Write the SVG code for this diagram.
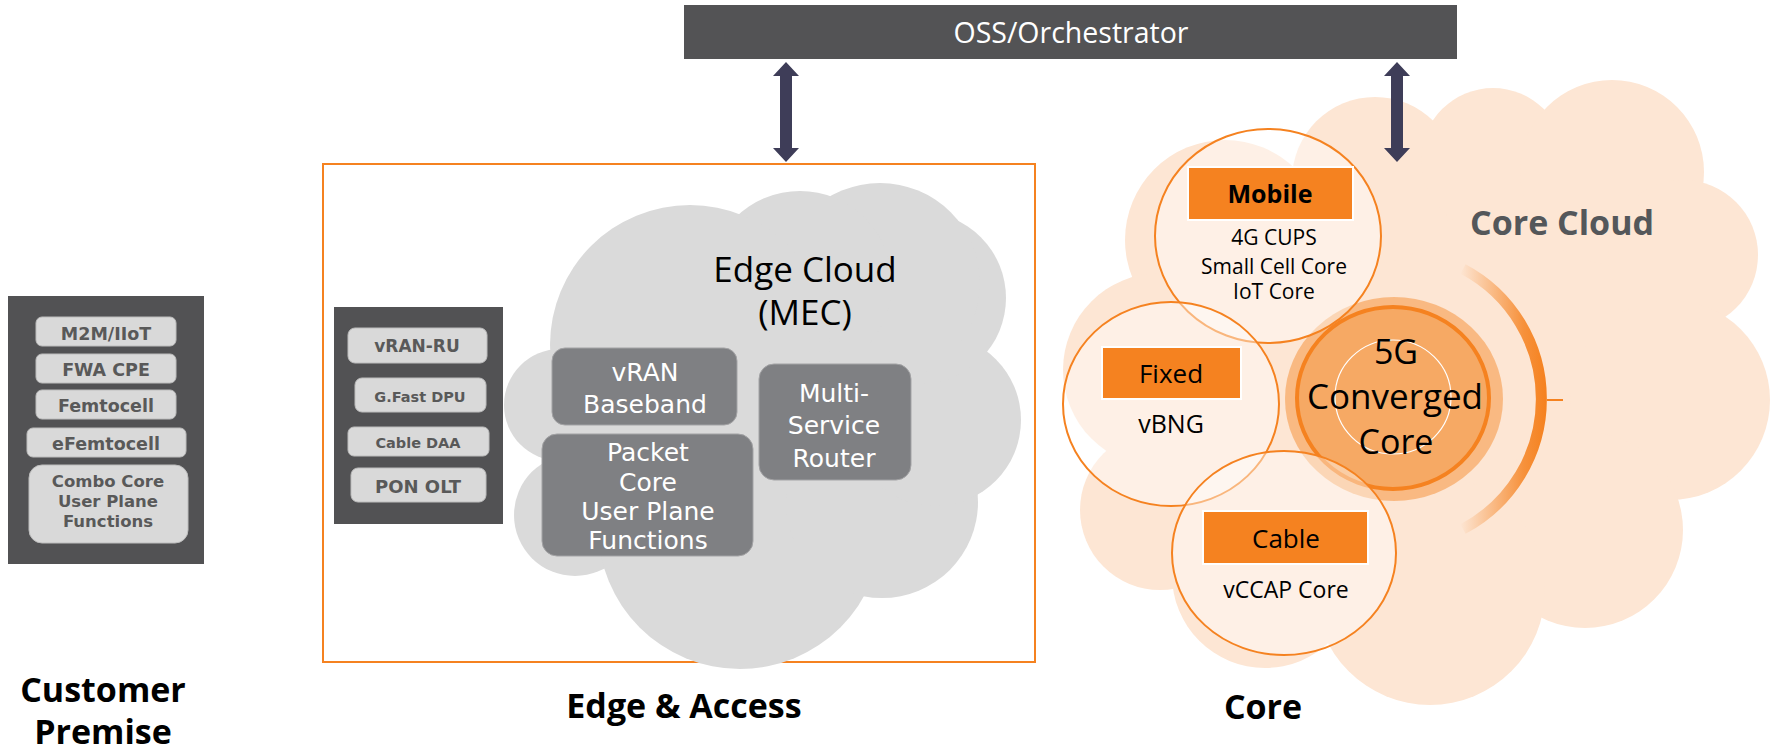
<svg xmlns="http://www.w3.org/2000/svg" width="1771" height="752" viewBox="0 0 1771 752">
  <defs>
    <style>
      .seg { font-family: "Open Sans", "Noto Sans", "Liberation Sans", sans-serif; }
      .title { font-family: "Open Sans", "Noto Sans", sans-serif; font-weight: 700; font-size: 34px; fill: #000; text-anchor: middle; }
      .darkpanel { fill: #525254; }
      .chip { fill: #d9d9d9; stroke: #bdbdbd; stroke-width: 1; }
      .chiptxt { font-family: "DejaVu Sans", "Liberation Sans", sans-serif; font-weight: 700; fill: #595959; text-anchor: middle; }
      .mecbox { fill: #7f8083; stroke: #a3a3a5; stroke-width: 1; }
      .mectxt { font-family: "DejaVu Sans", "Liberation Sans", sans-serif; font-size: 25px; fill: #ffffff; text-anchor: middle; }
      .edgecloud { fill: #dadada; }
      .corecloud { fill: #fde6d4; }
      .domain { fill: #ffffff; fill-opacity: 0.42; stroke: #f58220; stroke-width: 2; }
      .tag { fill: #f58220; stroke: #ffffff; stroke-width: 2; }
      .coretxt { font-family: "Open Sans", "Noto Sans", sans-serif; fill: #000; text-anchor: middle; }
      .arrow { fill: #3e3d58; }
    </style>
    <linearGradient id="arcFade" gradientUnits="userSpaceOnUse" x1="1460" y1="0" x2="1545" y2="0">
      <stop offset="0" stop-color="#f58220" stop-opacity="0"/>
      <stop offset="0.75" stop-color="#f58220" stop-opacity="0.85"/>
      <stop offset="1" stop-color="#f58220" stop-opacity="1"/>
    </linearGradient>
  </defs>

  <!-- Core cloud background -->
  <g id="core-cloud">
    <circle class="corecloud" cx="1420" cy="390" r="240"/>
    <circle class="corecloud" cx="1225" cy="240" r="100"/>
    <circle class="corecloud" cx="1375" cy="180" r="83"/>
    <circle class="corecloud" cx="1493" cy="160" r="72"/>
    <circle class="corecloud" cx="1612" cy="172" r="92"/>
    <circle class="corecloud" cx="1683" cy="255" r="75"/>
    <circle class="corecloud" cx="1670" cy="400" r="100"/>
    <circle class="corecloud" cx="1585" cy="530" r="98"/>
    <circle class="corecloud" cx="1430" cy="590" r="115"/>
    <circle class="corecloud" cx="1265" cy="575" r="93"/>
    <circle class="corecloud" cx="1160" cy="510" r="80"/>
    <circle class="corecloud" cx="1160" cy="370" r="97"/>
    <text class="seg" x="1562" y="235" font-size="34" font-weight="700" fill="#54575a" text-anchor="middle">Core Cloud</text>
  </g>

  <!-- OSS / Orchestrator bar -->
  <g id="oss">
    <rect x="684" y="5" width="773" height="54" fill="#535355"/>
    <text class="seg" x="1071" y="43" font-size="28.5" fill="#ffffff" text-anchor="middle">OSS/Orchestrator</text>
  </g>

  <!-- Customer premise equipment -->
  <g id="customer-premise">
    <rect class="darkpanel" x="8" y="296" width="196" height="268"/>
    <rect class="chip" x="36" y="317" width="140" height="29" rx="6"/>
    <text class="chiptxt" x="106" y="340" font-size="17.5">M2M/IIoT</text>
    <rect class="chip" x="36" y="354" width="140" height="29" rx="6"/>
    <text class="chiptxt" x="106" y="376" font-size="17.5">FWA CPE</text>
    <rect class="chip" x="36" y="390" width="140" height="29" rx="6"/>
    <text class="chiptxt" x="106" y="412" font-size="17.5">Femtocell</text>
    <rect class="chip" x="27" y="428" width="159" height="29" rx="6"/>
    <text class="chiptxt" x="106" y="450" font-size="17.5">eFemtocell</text>
    <rect class="chip" x="29" y="465" width="159" height="78" rx="13"/>
    <text class="chiptxt" x="108" y="487" font-size="16.5">Combo Core</text>
    <text class="chiptxt" x="108" y="507" font-size="16.5">User Plane</text>
    <text class="chiptxt" x="108" y="527" font-size="16.5">Functions</text>
    <text class="title" x="103" y="702" font-size="33">Customer</text>
    <text class="title" x="103" y="744" font-size="33">Premise</text>
  </g>

  <!-- Edge & Access domain -->
  <g id="edge-access">
    <rect x="323" y="164" width="712" height="498" fill="none" stroke="#f58220" stroke-width="2"/>
    <text class="title" x="684" y="718">Edge &amp; Access</text>
  </g>

  <g id="access-nodes">
    <rect class="darkpanel" x="334" y="307" width="169" height="217"/>
    <rect class="chip" x="348" y="328" width="139" height="35" rx="7"/>
    <text class="chiptxt" x="417" y="352" font-size="17">vRAN-RU</text>
    <rect class="chip" x="355" y="378" width="131" height="34" rx="7"/>
    <text class="chiptxt" x="420" y="402" font-size="14.5">G.Fast DPU</text>
    <rect class="chip" x="348" y="427" width="141" height="29" rx="6"/>
    <text class="chiptxt" x="418" y="448" font-size="14.5">Cable DAA</text>
    <rect class="chip" x="351" y="468" width="135" height="34" rx="7"/>
    <text class="chiptxt" x="418" y="493" font-size="18">PON OLT</text>
  </g>

  <!-- Edge cloud (MEC) -->
  <g id="edge-cloud">
    <ellipse class="edgecloud" cx="770" cy="440" rx="220" ry="155"/>
    <circle class="edgecloud" cx="560" cy="405" r="56"/>
    <circle class="edgecloud" cx="575" cy="515" r="61"/>
    <circle class="edgecloud" cx="740" cy="527" r="142"/>
    <circle class="edgecloud" cx="882" cy="502" r="96"/>
    <circle class="edgecloud" cx="935" cy="420" r="86"/>
    <circle class="edgecloud" cx="920" cy="298" r="86"/>
    <circle class="edgecloud" cx="880" cy="283" r="100"/>
    <circle class="edgecloud" cx="800" cy="283" r="92"/>
    <circle class="edgecloud" cx="690" cy="345" r="140"/>
    <text class="seg" x="805" y="282" font-size="35" fill="#000" text-anchor="middle">Edge Cloud</text>
    <text class="seg" x="805" y="325" font-size="35" fill="#000" text-anchor="middle">(MEC)</text>
  </g>

  <g id="vran-baseband">
    <rect class="mecbox" x="552" y="348" width="185" height="77" rx="13"/>
    <text class="mectxt" x="645" y="381">vRAN</text>
    <text class="mectxt" x="645" y="413">Baseband</text>
  </g>

  <g id="packet-core-upf">
    <rect class="mecbox" x="542" y="434" width="211" height="122" rx="15"/>
    <text class="mectxt" x="648" y="461">Packet</text>
    <text class="mectxt" x="648" y="491">Core</text>
    <text class="mectxt" x="648" y="520">User Plane</text>
    <text class="mectxt" x="648" y="549">Functions</text>
  </g>

  <g id="multi-service-router">
    <rect class="mecbox" x="759" y="364" width="152" height="116" rx="15"/>
    <text class="mectxt" x="834" y="402">Multi-</text>
    <text class="mectxt" x="834" y="434">Service</text>
    <text class="mectxt" x="834" y="467">Router</text>
  </g>

  <!-- 5G converged core -->
  <g id="converged-core">
    <path d="M1463,269 A147,147 0 0,1 1463,529" fill="none" stroke="url(#arcFade)" stroke-width="11"/>
    <line x1="1547" y1="400" x2="1563" y2="400" stroke="#f58220" stroke-width="2"/>
    <ellipse cx="1394" cy="399" rx="109" ry="102" fill="#f58220" fill-opacity="0.45"/>
    <ellipse cx="1393" cy="398" rx="96" ry="91" fill="#f6a964" stroke="#f58220" stroke-width="4"/>
    <ellipse cx="1393" cy="397" rx="58" ry="57" fill="none" stroke="#ffffff" stroke-width="1.2"/>
  </g>

  <!-- Access technology domains -->
  <g id="mobile">
    <ellipse class="domain" cx="1268" cy="236" rx="113" ry="107"/>
    <rect class="tag" x="1188" y="167" width="165" height="53"/>
    <text class="coretxt" x="1270" y="203" font-size="25" font-weight="700">Mobile</text>
    <text class="coretxt" x="1274" y="245" font-size="21">4G CUPS</text>
    <text class="coretxt" x="1274" y="274" font-size="21">Small Cell Core</text>
    <text class="coretxt" x="1274" y="299" font-size="21">IoT Core</text>
  </g>

  <g id="fixed">
    <ellipse class="domain" cx="1171" cy="404" rx="108" ry="102"/>
    <rect class="tag" x="1102" y="347" width="139" height="52"/>
    <text class="coretxt" x="1171" y="383" font-size="26">Fixed</text>
    <text class="coretxt" x="1171" y="433" font-size="25">vBNG</text>
  </g>

  <g id="cable">
    <ellipse class="domain" cx="1284" cy="553" rx="112" ry="102"/>
    <rect class="tag" x="1203" y="511" width="165" height="53"/>
    <text class="coretxt" x="1286" y="548" font-size="26">Cable</text>
    <text class="coretxt" x="1286" y="598" font-size="23">vCCAP Core</text>
  </g>

  <g id="converged-core-label">
    <text class="coretxt" x="1396" y="364" font-size="34">5G</text>
    <text class="coretxt" x="1395" y="409" font-size="35">Converged</text>
    <text class="coretxt" x="1396" y="454" font-size="34">Core</text>
  </g>

  <text class="title" x="1263" y="719">Core</text>

  <!-- Management connectors -->
  <g id="connectors">
    <polygon class="arrow" points="786,62 799,76 792,76 792,148 799,148 786,162 773,148 780,148 780,76 773,76"/>
    <polygon class="arrow" points="1397,62 1410,76 1403,76 1403,148 1410,148 1397,162 1384,148 1391,148 1391,76 1384,76"/>
  </g>
</svg>
